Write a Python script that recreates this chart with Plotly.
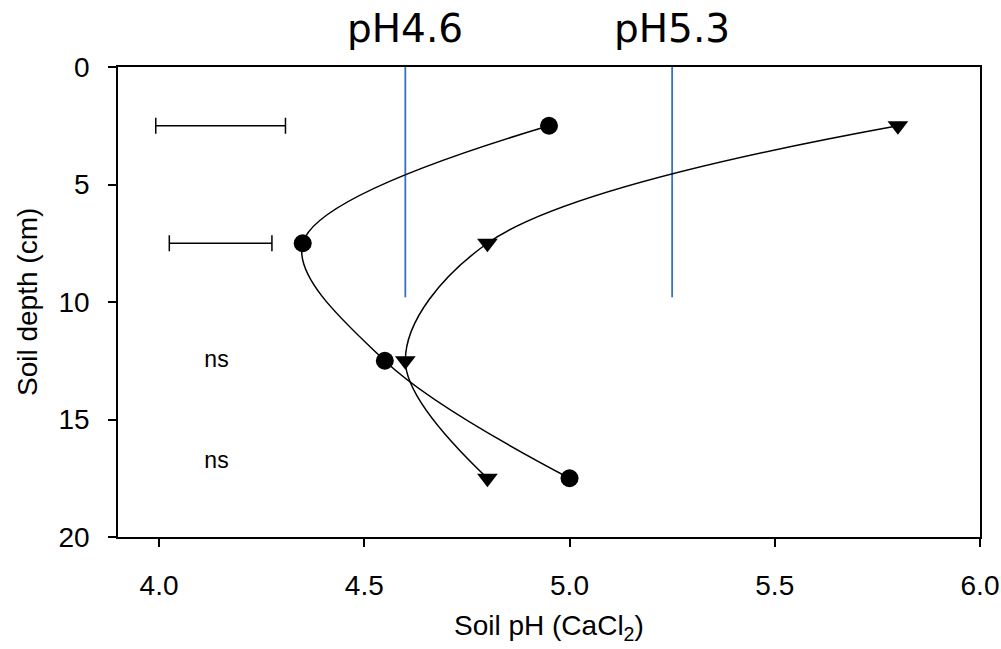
import plotly.graph_objects as go

# Data
depth = [2.5, 7.5, 12.5, 17.5]
ph_circle = [4.95, 4.35, 4.55, 5.00]
ph_triangle = [5.80, 4.80, 4.60, 4.80]

# error bars (LSD) and ns labels
err_depth = [2.5, 7.5]
err_center = [4.15, 4.15]
err_half = [0.158, 0.125]
ns_depth = [12.5, 16.8]
ns_x = [4.14, 4.14]
ns_text = ["ns", "ns"]

# reference pH lines
ref_ph = [4.6, 5.25]
ref_labels = ["pH4.6", "pH5.3"]
ref_depth = [0, 9.8]

x_ticks = [4.0, 4.5, 5.0, 5.5, 6.0]
y_ticks = [0, 5, 10, 15, 20]
x_title = "Soil pH (CaCl<sub>2</sub>)"
y_title = "Soil depth (cm)"

fig = go.Figure()

for xv in ref_ph:
    fig.add_trace(go.Scatter(x=[xv, xv], y=ref_depth, mode="lines",
                             line=dict(color="#3371C2", width=1.8),
                             showlegend=False, hoverinfo="skip"))

fig.add_trace(go.Scatter(x=ph_circle, y=depth, mode="lines+markers",
                         line=dict(color="black", width=1.5, shape="spline", smoothing=1.0),
                         marker=dict(symbol="circle", size=18, color="black"),
                         showlegend=False))
fig.add_trace(go.Scatter(x=ph_triangle, y=depth, mode="lines+markers",
                         line=dict(color="black", width=1.5, shape="spline", smoothing=1.0),
                         marker=dict(symbol="triangle-down", size=18, color="black"),
                         showlegend=False))

fig.add_trace(go.Scatter(x=err_center, y=err_depth, mode="markers",
                         marker=dict(size=1, color="rgba(0,0,0,0)"),
                         error_x=dict(type="data", array=err_half, visible=True,
                                      color="black", thickness=1.5, width=8),
                         showlegend=False, hoverinfo="skip"))

fig.add_trace(go.Scatter(x=ns_x, y=ns_depth, mode="text", text=ns_text,
                         textfont=dict(family="Liberation Sans, Arial", size=23, color="black"),
                         showlegend=False, hoverinfo="skip"))

for xv, lab in zip(ref_ph, ref_labels):
    fig.add_annotation(x=xv, y=1, xref="x", yref="paper", yanchor="bottom",
                       text=lab, showarrow=False, yshift=14,
                       font=dict(family="DejaVu Sans", size=39, color="black"))

tick_font = dict(family="Liberation Sans, Arial", size=28, color="black")
title_font = dict(family="Liberation Sans, Arial", size=28, color="black")

# axis titles
fig.add_annotation(x=0.5, y=0, xref="paper", yref="paper", xanchor="center", yanchor="middle",
                   yshift=-90, text=x_title, showarrow=False, font=title_font)
fig.add_annotation(x=0, y=0.5, xref="paper", yref="paper", xanchor="center", yanchor="middle",
                   xshift=-91, textangle=-90, text=y_title, showarrow=False, font=title_font)

fig.update_xaxes(range=[3.9, 6.0], tickvals=x_ticks, ticktext=[f"{v:.1f}" for v in x_ticks],
                 showline=True, linecolor="black", linewidth=1.5, mirror=True,
                 ticks="outside", ticklen=8, tickwidth=1.5, tickcolor="black",
                 ticklabelstandoff=15, automargin=False,
                 showgrid=False, zeroline=False, tickfont=tick_font)
fig.update_yaxes(range=[20, 0], tickvals=y_ticks,
                 showline=True, linecolor="black", linewidth=1.5, mirror=True,
                 ticks="outside", ticklen=8, tickwidth=1.5, tickcolor="black",
                 ticklabelstandoff=13, automargin=False,
                 showgrid=False, zeroline=False, tickfont=tick_font)

fig.update_layout(width=1001, height=649, plot_bgcolor="white", paper_bgcolor="white",
                  margin=dict(l=118, r=21, t=67, b=112))

fig.write_html("out.html", config={"displayModeBar": False},
               post_script="document.body.style.margin='0';")
